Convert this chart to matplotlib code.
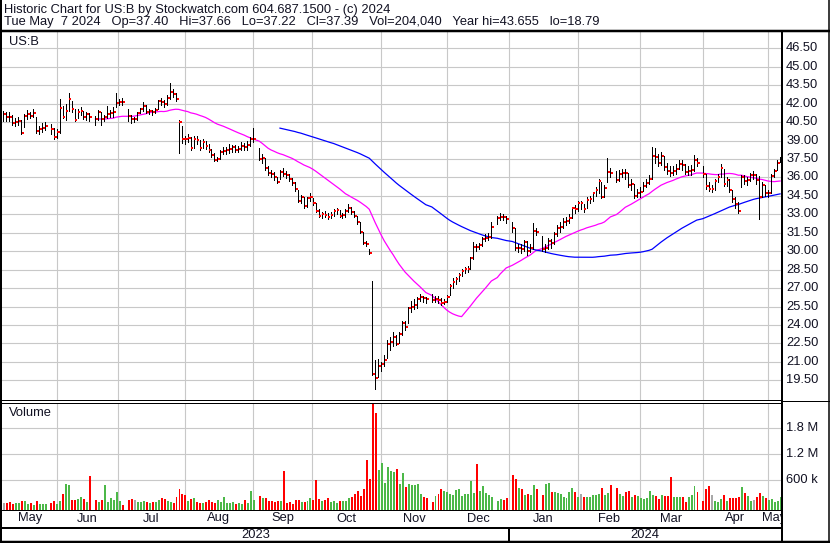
import numpy as np
import pandas as pd
import matplotlib
matplotlib.use("Agg")
import matplotlib.pyplot as plt
from matplotlib.lines import Line2D

# === DATA (one value per trading day) ===
start_day, end_day = "2023-05-08", "2024-05-07"
holidays = ["2023-05-29", "2023-06-19", "2023-07-04", "2023-09-04", "2023-11-23",
            "2023-12-25", "2024-01-01", "2024-01-15", "2024-02-19", "2024-03-29"]

close = [
    41.13, 40.94, 40.91, 40.40, 40.48, 40.59, 39.64, 41.02, 41.13, 41.00, 41.27, 39.78, 39.94, 40.02, 40.21,
    39.94, 39.26, 39.70, 41.62, 40.94, 41.43, 42.38, 41.54, 40.67, 41.35, 41.38, 40.94, 41.13, 40.91,
    40.75, 41.35, 40.72, 40.90, 41.16, 41.27, 41.29, 42.08, 42.13, 42.10,
    41.00, 40.72, 40.72, 41.27, 41.54, 41.84, 41.35, 41.43, 41.35, 41.51, 42.19, 42.11, 42.00, 42.49, 42.97,
    42.78, 42.38, 40.54, 39.13, 39.10, 39.24, 38.37, 39.15, 39.02, 38.37, 38.88, 38.56, 38.23, 37.83, 37.45,
    37.47, 38.10, 38.18, 38.23, 38.31, 38.45, 38.23, 38.29, 38.56, 38.50, 38.64, 39.10, 39.13,
    37.53, 37.58, 36.74, 36.40, 36.25, 36.03, 35.66, 36.47, 36.28, 36.20, 35.90, 35.58, 35.03, 34.11, 34.44,
    33.68, 34.36, 34.38, 33.95, 33.30, 32.87, 33.03, 32.95, 32.81, 32.97, 33.30, 33.35, 32.89, 32.92, 33.30,
    33.55, 33.18, 32.90, 32.40, 31.58, 30.70, 30.55, 29.89, 20.00, 19.69, 20.70, 20.81, 21.16, 22.43, 22.60,
    23.06, 22.46, 23.24, 24.19, 23.87, 25.39, 25.49, 25.60, 26.12, 26.31, 26.17, 26.09,
    26.04, 26.12, 26.04, 25.82, 25.87, 26.31, 27.18, 27.53, 27.72, 28.04, 28.42, 28.53, 28.58, 29.48, 30.37,
    30.32, 30.48, 31.02, 31.05, 31.19, 32.00,
    32.68, 32.81, 32.78, 32.60,
    31.86, 30.24, 30.29, 30.18, 30.78, 30.02, 30.29, 31.65, 31.60,
    30.18, 30.29, 30.83, 30.70, 31.38, 31.92, 32.00, 32.40, 32.49, 32.73, 33.49, 33.41, 33.90, 33.90, 33.44,
    34.17, 34.22, 34.71, 34.98, 35.71, 34.44, 35.17, 36.47, 36.33,
    35.79, 36.25, 36.39, 36.33, 35.39, 35.44, 34.49, 34.76, 34.79, 35.33, 35.52, 35.90, 37.74, 37.69, 37.20,
    37.74, 36.88, 36.52, 36.39, 36.52, 36.70, 37.07, 37.01, 36.47, 36.52, 36.61, 37.42, 37.15,
    36.28, 35.30, 35.09, 35.09, 35.74, 36.06, 36.74, 35.47, 35.79, 34.98, 34.22, 33.84, 33.30, 36.01, 35.74,
    35.79, 36.20, 36.20, 35.79, 34.44, 35.36, 34.71, 34.76, 36.14, 36.52, 37.20, 37.39,
]

high = [
    41.40, 41.35, 41.30, 41.05, 40.80, 40.95, 40.70, 41.15, 41.50, 41.35, 41.55, 40.95, 40.20, 40.40, 40.50,
    40.35, 40.05, 39.95, 42.40, 41.80, 41.95, 42.85, 42.20, 41.60, 41.55, 41.70, 41.40, 41.35, 41.20,
    41.00, 41.50, 41.35, 41.10, 41.80, 41.45, 41.70, 42.90, 42.40, 42.45,
    41.60, 41.05, 40.95, 41.35, 41.65, 42.10, 41.90, 41.60, 41.50, 41.65, 42.30, 42.45, 42.30, 42.70, 43.65,
    43.20, 42.90, 40.70, 40.15, 39.40, 39.55, 39.30, 39.40, 39.35, 39.05, 39.10, 39.00, 38.70, 38.35, 37.95,
    37.70, 38.25, 38.50, 38.50, 38.70, 38.60, 38.60, 38.55, 38.85, 38.80, 38.95, 39.30, 40.00,
    38.40, 37.90, 37.60, 36.90, 36.60, 36.45, 36.05, 36.60, 36.75, 36.55, 36.30, 35.95, 35.60, 34.95, 34.60,
    34.40, 34.45, 34.70, 34.35, 33.95, 33.40, 33.20, 33.25, 33.10, 33.15, 33.45, 33.50, 33.35, 33.10, 33.40,
    33.85, 33.60, 33.25, 32.90, 32.35, 31.60, 30.85, 30.20, 27.55, 21.16, 21.20, 21.00, 21.60, 22.80, 23.00,
    23.40, 23.20, 23.40, 24.30, 24.30, 25.50, 25.95, 26.10, 26.30, 26.55, 26.40, 26.30,
    26.50, 26.40, 26.35, 26.20, 26.10, 26.45, 27.30, 27.80, 27.90, 28.20, 28.55, 28.70, 28.80, 29.55, 30.75,
    30.60, 30.70, 31.15, 31.40, 31.50, 32.40,
    32.90, 33.10, 33.00, 32.85,
    32.40, 31.86, 30.60, 30.60, 30.95, 30.80, 30.55, 32.30, 31.90,
    31.20, 30.60, 31.10, 31.00, 31.55, 32.10, 32.35, 32.70, 32.80, 33.00, 33.60, 33.75, 34.10, 34.10, 33.85,
    34.40, 34.50, 34.85, 35.20, 35.90, 35.60, 35.40, 37.55, 36.80,
    36.50, 36.60, 36.70, 36.70, 36.40, 35.90, 35.50, 35.10, 35.20, 35.60, 35.90, 36.20, 38.50, 38.40, 37.90,
    38.10, 37.75, 37.20, 36.90, 36.90, 37.10, 37.40, 37.45, 37.10, 36.90, 37.00, 37.85, 37.60,
    36.90, 36.30, 35.60, 35.40, 35.90, 36.30, 37.10, 36.70, 36.00, 35.90, 35.00, 34.40, 34.00, 36.20, 36.20,
    36.00, 36.40, 36.50, 36.30, 36.10, 35.60, 35.40, 35.00, 36.30, 36.70, 37.40, 37.66,
]

low = [
    40.55, 40.60, 40.55, 40.25, 40.15, 40.30, 39.55, 40.10, 40.75, 40.80, 40.90, 39.65, 39.55, 39.70, 39.85,
    39.50, 39.15, 39.20, 39.60, 40.80, 40.70, 41.40, 41.35, 40.55, 40.80, 41.05, 40.75, 40.70, 40.60,
    40.25, 40.70, 40.30, 40.55, 40.85, 40.90, 40.95, 41.75, 41.90, 41.85,
    40.60, 40.45, 40.50, 40.70, 41.20, 41.40, 41.20, 41.15, 41.10, 41.25, 41.55, 41.85, 41.70, 41.90, 42.40,
    42.55, 42.20, 37.95, 38.80, 38.75, 38.85, 38.25, 38.40, 38.70, 38.25, 38.40, 38.30, 38.05, 37.70, 37.30,
    37.30, 37.50, 37.90, 37.90, 38.00, 38.10, 38.05, 38.05, 38.20, 38.25, 38.25, 38.55, 38.90,
    37.40, 37.20, 36.60, 36.20, 36.00, 35.80, 35.55, 35.90, 36.10, 35.95, 35.70, 35.40, 34.90, 34.00, 33.90,
    33.55, 33.60, 34.10, 33.80, 33.20, 32.75, 32.70, 32.75, 32.65, 32.70, 32.90, 33.05, 32.80, 32.70, 32.80,
    33.20, 33.00, 32.80, 32.20, 31.45, 30.60, 30.45, 29.80, 19.90, 18.79, 19.75, 20.30, 20.65, 21.35, 22.00,
    22.30, 22.35, 22.50, 23.20, 23.60, 24.20, 25.10, 25.30, 25.40, 25.95, 25.90, 25.80,
    25.85, 25.90, 25.80, 25.65, 25.70, 25.85, 26.45, 27.00, 27.35, 27.60, 27.95, 28.20, 28.30, 28.55, 29.40,
    30.05, 30.15, 30.40, 30.85, 30.95, 31.10,
    32.20, 32.50, 32.55, 32.30,
    31.60, 30.10, 29.95, 29.85, 30.00, 29.70, 29.90, 30.20, 31.30,
    30.05, 29.90, 30.20, 30.30, 30.60, 31.20, 31.60, 31.90, 32.10, 32.30, 32.70, 33.10, 33.30, 33.40, 33.20,
    33.50, 33.90, 34.10, 34.50, 34.70, 34.30, 34.40, 35.60, 36.00,
    35.60, 35.70, 36.00, 35.90, 35.20, 35.00, 34.30, 34.40, 34.40, 34.90, 35.20, 35.50, 35.85, 37.20, 36.90,
    37.00, 36.60, 36.30, 36.10, 36.20, 36.30, 36.70, 36.60, 36.30, 36.20, 36.20, 36.50, 36.90,
    36.00, 35.10, 34.90, 34.80, 35.00, 35.60, 36.00, 35.30, 35.30, 34.80, 34.00, 33.50, 33.10, 35.20, 35.50,
    35.40, 35.70, 35.90, 35.50, 32.60, 34.40, 34.50, 34.40, 34.70, 36.00, 36.60, 37.22,
]

# volume in thousands of shares
volume_k = [
    69, 69, 92, 61, 84, 69, 123, 123, 61, 77, 31, 123, 46, 61, 53,
    84, 123, 53, 123, 284, 515, 500, 146, 146, 169, 223, 169, 107, 706,
    146, 107, 146, 492, 107, 192, 146, 330, 123, 30,
    146, 161, 146, 107, 92, 123, 92, 84, 92, 107, 146, 199, 161, 123, 107,
    84, 223, 400, 284, 261, 123, 169, 199, 92, 84, 84, 107, 138, 92, 84,
    138, 107, 223, 84, 84, 92, 46, 69, 53, 146, 69, 353, 146,
    246, 184, 199, 130, 130, 107, 123, 123, 815, 84, 100, 53, 138, 146, 107,
    107, 123, 199, 138, 607, 169, 130, 146, 184, 92, 130, 69, 123, 130, 123,
    184, 215, 284, 353, 246, 392, 1070, 630, 2500, 2145, 838, 992, 531, 900, 815,
    785, 861, 508, 762, 453, 508, 492, 492, 508, 276, 223, 184,
    92, 246, 276, 400, 353, 338, 284, 261, 376, 400, 238, 284, 276, 584, 300,
    976, 353, 476, 315, 261, 223,
    123, 161, 146, 184,
    722, 630, 430, 400, 261, 292, 261, 492, 400,
    261, 508, 531, 338, 338, 300, 276, 207, 199, 338, 415, 338, 223, 284, 223,
    223, 207, 261, 261, 276, 415, 261, 300, 492,
    415, 276, 246, 323, 353, 223, 261, 238, 184, 169, 184, 353, 261, 246, 169,
    261, 238, 238, 669, 223, 207, 207, 207, 107, 223, 261, 476, 338,
    123, 392, 476, 261, 123, 107, 161, 261, 123, 184, 184, 184, 215, 453, 300,
    238, 123, 146, 207, 300, 246, 199, 146, 161, 92, 123, 204,
]

month_names = ["May", "Jun", "Jul", "Aug", "Sep", "Oct", "Nov", "Dec",
               "Jan", "Feb", "Mar", "Apr", "May"]
year_labels = ["2023", "2024"]
price_ticks = [19.5, 21.0, 22.5, 24.0, 25.5, 27.0, 28.5, 30.0, 31.5, 33.0,
               34.5, 36.0, 37.5, 39.0, 40.5, 42.0, 43.5, 45.0, 46.5]
vol_ticks = [600000, 1200000, 1800000]
vol_tick_labels = ["600 k", "1.2 M", "1.8 M"]

title_1 = "Historic Chart for US:B by Stockwatch.com 604.687.1500 - (c) 2024"
title_2 = ("Tue May  7 2024   Op=37.40   Hi=37.66   Lo=37.22   Cl=37.39   "
           "Vol=204,040   Year hi=43.655   lo=18.79")

# === POSITIONS ===
days = pd.bdate_range(start_day, end_day)
tdays = days.drop(pd.to_datetime(holidays))
x = days.get_indexer(tdays).astype(float)
assert len(close) == len(high) == len(low) == len(volume_k) == len(x)

close = np.array(close)
high = np.array(high)
low = np.array(low)
volume = np.array(volume_k) * 1000.0

month_starts = pd.date_range("2023-06-01", "2024-05-01", freq="MS")
grid_x = []
for m in month_starts:
    i = days.searchsorted(m)
    grid_x.append(i - 1.3 if m.weekday() >= 5 else i)

W, H = 830, 543
def fx(px):
    return px / W
def fy(py):
    return 1 - py / H

FONT = "Liberation Sans"
FS = 9.3
GRID = "#c8c8c8"
TXT = "#111122"
plt.rcParams["font.family"] = [FONT, "DejaVu Sans"]

fig = plt.figure(figsize=(W / 100, H / 100), dpi=100)
fig.patch.set_facecolor("white")

XL = (-0.37, 261.3)
ax = fig.add_axes([fx(2), fy(399.5), 779 / W, (399.5 - 31.7) / H])
axv = fig.add_axes([fx(2), fy(509.5), 779 / W, (509.5 - 402.7) / H])
axd = fig.add_axes([fx(2), fy(542), 779 / W, (542 - 509.5) / H])
for a in (ax, axv, axd):
    a.set_xlim(*XL)
    a.set_frame_on(False)
    a.set_xticks([])
    a.set_yticks([])

# === PRICE PANEL ===
ax.set_ylim(17.945, 47.85)
for g in grid_x:
    ax.axvline(g, color=GRID, lw=0.8, zorder=0)
for p in price_ticks:
    ax.axhline(p, color=GRID, lw=0.8, zorder=0)
    ax.text(1.0065, p, f"{p:.2f}", transform=ax.get_yaxis_transform(),
            ha="left", va="center", fontsize=FS, color=TXT)

ma30 = pd.Series(close).rolling(30).mean()
ma90 = pd.Series(close).rolling(90).mean()
ax.plot(x, ma30, color="#ff00ff", lw=0.9, zorder=2)
ax.plot(x, ma90, color="#0000ff", lw=0.9, zorder=2)
ax.vlines(x, low, high, color="black", lw=0.72, zorder=3, antialiased=False)
ax.hlines(close, x + 0.25, x + 0.95, color="#ff0000", lw=1.44, zorder=4, antialiased=False)
fig.text(fx(9), fy(42), "US:B", ha="left", va="center", fontsize=FS, color=TXT)

# === VOLUME PANEL ===
vbase = -74000
axv.set_ylim(vbase, 2.39e6)
for g in grid_x:
    axv.axvline(g, color=GRID, lw=0.8, zorder=0)
for v, lab in zip(vol_ticks, vol_tick_labels):
    axv.axhline(v, color=GRID, lw=0.8, zorder=0)
    axv.text(1.0065, v, lab, transform=axv.get_yaxis_transform(),
             ha="left", va="center", fontsize=FS, color=TXT)

chg = np.diff(close, prepend=np.nan)
colors = np.where(chg > 0, "#4cb848", np.where(chg < 0, "#ff0000", "#a8a8a8"))
axv.bar(x + 0.25, volume - vbase, bottom=vbase, width=0.66, color=colors, zorder=2)
fig.text(fx(9), fy(413), "Volume", ha="left", va="center", fontsize=FS, color=TXT)

# === DATE AXIS ===
axd.set_ylim(542, 509.5)
edges = [0] + grid_x + [x[-1]]
for i, name in enumerate(month_names):
    axd.text((edges[i] + edges[i + 1]) / 2, 518.5, name, ha="center", va="center",
             fontsize=FS, color=TXT, clip_on=True)
jan = grid_x[7]
axd.text((XL[0] + jan) / 2, 535, year_labels[0], ha="center", va="center", fontsize=FS, color=TXT)
axd.text((jan + XL[1]) / 2, 535, year_labels[1], ha="center", va="center", fontsize=FS, color=TXT)

# === HEADER ===
fig.text(fx(4), fy(9.5), title_1, ha="left", va="center", fontsize=FS, color=TXT)
fig.text(fx(4), fy(22.5), title_2, ha="left", va="center", fontsize=FS, color=TXT)

# === FRAME LINES ===
def line(x0, y0, x1, y1, lw=1.0):
    fig.add_artist(Line2D([fx(x0), fx(x1)], [fy(y0), fy(y1)], color="black",
                          lw=lw * 0.72, transform=fig.transFigure, solid_capstyle="butt"))

line(1, 0, 1, 543, 2)            # left border
line(829, 0, 829, 543, 1.5)      # right border
line(0, 30.5, 830, 30.5, 2.5)    # under header
line(782, 30.5, 782, 543, 2)     # price / label separator
line(0, 400, 782, 400, 1)        # double line between panels
line(0, 402.7, 782, 402.7, 1)
line(782, 400.5, 830, 400.5, 1)
line(0, 509.8, 782, 509.8, 1)    # under volume
line(0, 527.5, 782, 527.5, 2)    # under months
line(0, 541.8, 830, 541.8, 2.5)  # bottom border
jan_px = 3.1 + 2.977 * jan
line(jan_px, 527.5, jan_px, 542, 2)

fig.savefig("out.png", dpi=100)
plt.close()
